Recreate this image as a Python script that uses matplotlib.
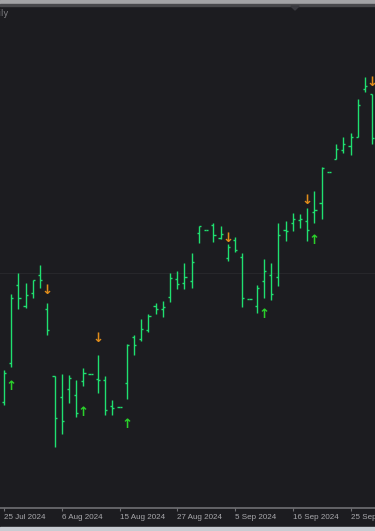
import matplotlib
matplotlib.use('Agg')
import matplotlib.pyplot as plt
from matplotlib.patches import Rectangle, Polygon

# price is in chart units (higher = higher on screen)
highs = [161, 237, 258, 248, 251, 266, 228, 155, 157, 156,
         151, 163, 157.3, 176, 155, 131, 124.3, 187, 196, 212,
         217, 228, 230, 258, 260, 268, 278, 305, 301.3, 308,
         305, 287, 294, 278, 232.3, 246, 272, 268, 308, 310,
         318, 317, 323, 340, 364, 359.3, 387, 394, 398, 432,
         454, 437]
lows = [126, 164, 222, 223, 233, 243, 196, 84, 97, 128,
        114, 145, 156.7, 138, 116, 116, 123.7, 132, 176, 190,
        199, 217, 214, 229, 242, 242, 243, 288, 300.7, 289,
        292, 270, 279, 224, 231.7, 218, 233, 231, 245, 290,
        300, 303, 290, 308, 312, 358.7, 372, 378, 376, 394,
        439, 387]
opens = [129, 168, 246, 225, 238, 256, 222, 155, 134, 142,
         136, 150, 157, 152, 151, 125, 124, 148, 194, 192,
         201, 225, 222, 234, 252, 248, 250, 298, 301, 306,
         293, 273, 291, 274, 232, 225, 250, 256, 254, 301,
         308, 311, 310, 319, 328, 359, 372, 381, 385, 394,
         442, 437]
closes = [158, 233, 233, 236, 251, 251, 201, 113, 110, 153,
          118, 158, 157, 151, 121, 123, 124, 186, 186, 202,
          215, 222, 224, 253, 247, 254, 269, 305, 301, 296,
          297, 284, 281, 233, 232, 243, 260, 237, 296, 300,
          312, 312, 301, 321, 363, 359, 382, 387, 394, 426,
          445, 393]

up_idx = [1, 11, 17, 36, 43]
up_price = [145, 119, 107, 216, 290]
down_idx = [6, 13, 31, 42, 51]
down_price = [240, 193, 293, 331, 448]

date_idx = [0, 8, 16, 24, 32, 40, 48]
date_labels = ['25 Jul 2024', '6 Aug 2024', '15 Aug 2024', '27 Aug 2024',
               '5 Sep 2024', '16 Sep 2024', '25 Sep 2024']

bg = '#1c1c20'
bar_color = '#1fe070'

fig = plt.figure(figsize=(3.75, 5.31), dpi=100, facecolor=bg)
ax = fig.add_axes([0, 23 / 531, 1, 502 / 531])
ax.set_facecolor(bg)

idx = list(range(len(highs)))
ax.vlines(idx, lows, highs, color=bar_color, lw=1.0)
ax.hlines(opens, [i - 0.3 for i in idx], idx, color=bar_color, lw=1.0)
ax.hlines(closes, idx, [i + 0.3 for i in idx], color=bar_color, lw=1.0)

for i, p in zip(up_idx, up_price):
    ax.text(i, p, '\u2191', ha='center', va='center', color='#2bd12b',
            fontsize=9.5, fontweight='bold')
for i, p in zip(down_idx, down_price):
    ax.text(i, p, '\u2193', ha='center', va='center', color='#e08c1a',
            fontsize=9.5, fontweight='bold')

ax.axhline(258.5, color='#27272b', lw=0.8, zorder=0)

ax.set_xlim(-0.554, 51.39)
ax.set_ylim(23, 525)

for side in ['top', 'right', 'left']:
    ax.spines[side].set_visible(False)
ax.spines['bottom'].set_color('#707074')
ax.spines['bottom'].set_linewidth(1.2)
ax.set_yticks([])
ax.set_xticks(date_idx)
ax.set_xticklabels(date_labels, ha='left', family='Liberation Sans',
                   fontsize=5.8, color='#a8a8ac')
ax.tick_params(axis='x', direction='out', length=2.5, width=0.8,
               color='#707074', pad=1.5)

# window chrome
fig.patches.append(Rectangle((0, 527 / 531), 1, 4 / 531, transform=fig.transFigure,
                             color='#a3a3a6', zorder=5))
fig.patches.append(Rectangle((0, 525 / 531), 1, 2 / 531, transform=fig.transFigure,
                             color='#48484c', zorder=5))
fig.patches.append(Polygon([(291 / 375, 525 / 531), (299 / 375, 525 / 531),
                            (295 / 375, 521 / 531)], closed=True,
                           transform=fig.transFigure, color='#3a3a3f', zorder=5))
fig.patches.append(Rectangle((0, 0), 1, 4 / 531, transform=fig.transFigure,
                             color='#c8ccd2', zorder=5))
fig.text(8 / 375, 1 - 13 / 531, 'Daily', ha='right', va='center',
         color='#808084', fontsize=6)

fig.savefig('out.png', dpi=100, facecolor=bg)
